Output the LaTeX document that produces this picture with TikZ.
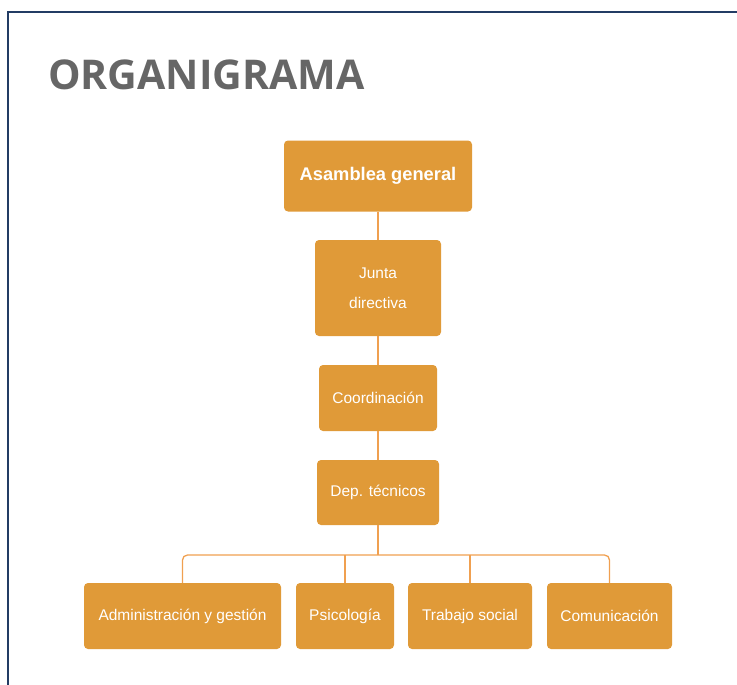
\documentclass[tikz,border=0pt]{standalone}
\usepackage{fontspec}
\setmainfont{Liberation Sans}
\newfontfamily\titlefont{Open Sans}
\usepackage{xcolor}
\usetikzlibrary{arrows}
\definecolor{naranja}{RGB}{224,154,56}
\definecolor{linea}{RGB}{240,160,80}
\definecolor{marco}{RGB}{35,60,100}
\definecolor{gris}{RGB}{102,102,102}

\tikzset{cargo/.style={fill=naranja,text=white,rounded corners=4pt,inner sep=0pt,
  font=\fontsize{15.5}{18}\selectfont,minimum height=66pt}}

\begin{document}
\begin{tikzpicture}[-,x=1pt,y=-1pt,auto,node distance=110pt]
\useasboundingbox (0,0) rectangle (737,685);
\draw[marco,line width=2pt] (8,685) -- (8,12.5) -- (737,12.5);
\node (titulo) [anchor=base west,text=gris,inner sep=0pt,
  font=\titlefont\bfseries\fontsize{41}{41}\selectfont] at (48,89) {ORGANIGRAMA};

\node (asamblea) [cargo,minimum width=188pt,minimum height=71pt,
  font=\bfseries\fontsize{18.3}{22}\selectfont] at (378,176) {Asamblea general};
\node (junta) [cargo,below of=asamblea,node distance=112pt,minimum width=126pt,
  minimum height=96pt,align=center] {Junta\\[12pt]directiva};
\node (coord) [cargo,below of=junta,minimum width=118pt] {Coordinación};
\node (dep) [cargo,below of=coord,node distance=94.5pt,minimum width=122pt,
  minimum height=65pt] {Dep. técnicos};
\node (psico) [cargo,below of=dep,node distance=123.5pt,xshift=-33pt,
  minimum width=98pt] {Psicología};
\node (admin) [cargo,left of=psico,node distance=162.5pt,minimum width=197pt] {Administración y gestión};
\node (trabajo) [cargo,right of=psico,node distance=125pt,minimum width=124pt] {Trabajo social};
\node (comun) [cargo,right of=trabajo,node distance=139.5pt,minimum width=125pt] {Comunicación};

\coordinate (bus) at (378,555);
\path[linea,line width=1.3pt]
(asamblea) edge (junta)
(junta) edge (coord)
(coord) edge (dep)
(dep) edge (bus);
\draw[linea,line width=1.3pt,rounded corners=5pt] (admin.north) |- (bus) -| (comun.north);
\draw[linea,line width=1.3pt] (psico.north) -- (psico.north |- bus)
  (trabajo.north) -- (trabajo.north |- bus);
\end{tikzpicture}
\end{document}
